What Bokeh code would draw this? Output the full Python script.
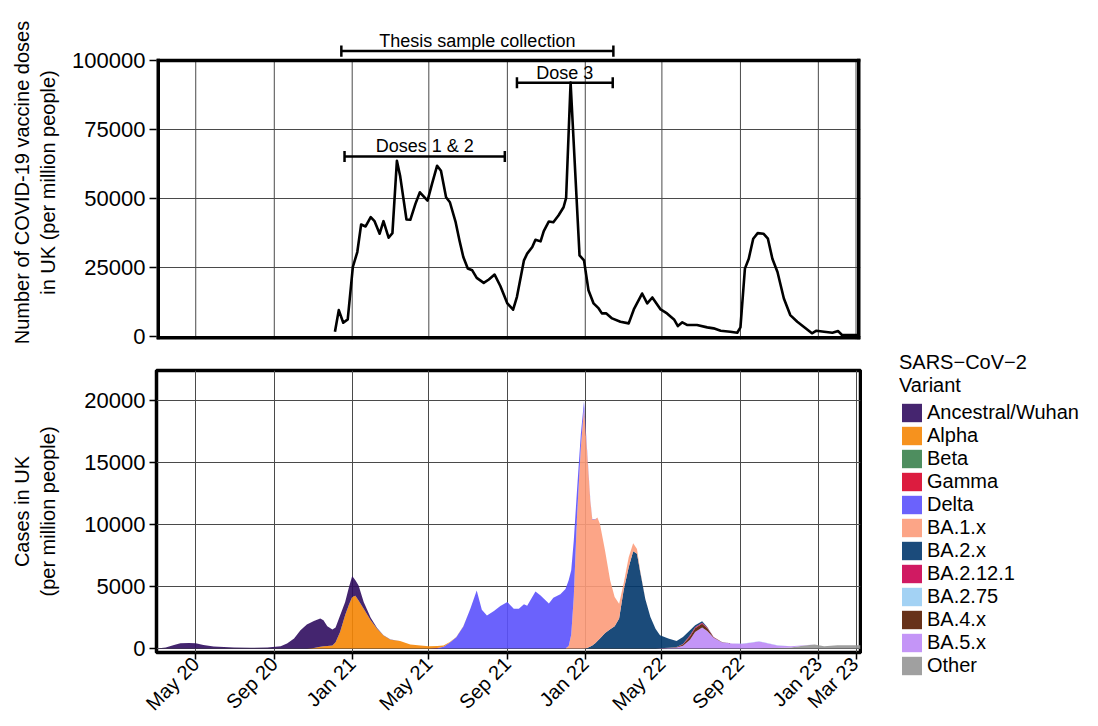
import math
import pandas as pd
from bokeh.plotting import figure
from bokeh.layouts import column, row
from bokeh.models import (Range1d, FixedTicker, NumeralTickFormatter,
                          DatetimeTickFormatter, ColumnDataSource, Legend, LegendItem)
from bokeh.core.properties import value
from bokeh.embed import file_html
from bokeh.resources import INLINE

# ---------------- data: vaccine doses (per million people) ----------------
vax_dates = [
    "2020-12-05", "2020-12-11", "2020-12-18", "2020-12-25", "2021-01-02", "2021-01-09",
    "2021-01-15", "2021-01-22", "2021-01-30", "2021-02-05", "2021-02-13", "2021-02-19",
    "2021-02-27", "2021-03-05", "2021-03-12", "2021-03-17", "2021-03-27", "2021-04-02",
    "2021-04-10", "2021-04-17", "2021-04-29", "2021-05-06", "2021-05-14", "2021-05-20",
    "2021-05-28", "2021-06-03", "2021-06-12", "2021-06-18", "2021-06-24", "2021-07-01",
    "2021-07-08", "2021-07-15", "2021-07-26", "2021-08-03", "2021-08-12", "2021-08-21",
    "2021-09-01", "2021-09-10", "2021-09-16", "2021-09-27", "2021-10-02", "2021-10-10",
    "2021-10-15", "2021-10-23", "2021-10-28", "2021-11-05", "2021-11-12", "2021-11-20",
    "2021-11-28", "2021-12-02", "2021-12-09", "2021-12-23", "2021-12-30", "2022-01-06",
    "2022-01-14", "2022-01-22", "2022-01-27", "2022-02-03", "2022-02-12", "2022-02-25",
    "2022-03-10", "2022-03-18", "2022-03-31", "2022-04-08", "2022-04-16", "2022-04-29",
    "2022-05-09", "2022-05-20", "2022-05-26", "2022-06-02", "2022-06-10", "2022-06-25",
    "2022-07-11", "2022-07-21", "2022-08-01", "2022-08-16", "2022-08-27", "2022-09-01",
    "2022-09-08", "2022-09-14", "2022-09-21", "2022-09-28", "2022-10-07", "2022-10-14",
    "2022-10-21", "2022-10-29", "2022-11-08", "2022-11-18", "2022-11-29", "2022-12-09",
    "2022-12-22", "2022-12-29", "2023-01-10", "2023-01-23", "2023-02-01", "2023-02-07",
    "2023-02-20", "2023-03-03",
]
vax_doses = [
    1730, 9560, 4980, 6200, 25180, 30600,
    40590, 39870, 43220, 41780, 37230, 41780,
    35790, 37450, 63680, 58270, 42390, 42290,
    48060, 52240, 49250, 55270, 61880, 60070,
    50440, 48640, 41420, 34820, 28790, 24610,
    23990, 21220, 19410, 20640, 22440, 18300,
    11980, 9700, 14360, 27600, 30020, 32400,
    35070, 34460, 38180, 41680, 41420, 43840,
    46840, 50230, 92000, 29400, 27600, 16780,
    11980, 10170, 8370, 8370, 6560, 5360,
    4760, 9800, 15570, 11980, 14140, 9800,
    8370, 6200, 3790, 5120, 4150, 4150,
    3310, 2950, 2100, 1730, 1370, 3310,
    24600, 28200, 35430, 37450, 37230, 35430,
    28200, 23380, 13780, 7760, 5360, 3550,
    1160, 2100, 1730, 1370, 1980, 540,
    540, 500,
]

# ---------------- data: cases by variant (per million people) ----------------
case_dates = [
    "2020-03-01", "2020-03-15", "2020-03-28", "2020-04-07", "2020-04-20",
    "2020-05-01", "2020-05-13", "2020-05-29", "2020-06-30", "2020-07-26",
    "2020-08-21", "2020-09-11", "2020-09-21", "2020-10-02", "2020-10-12",
    "2020-10-22", "2020-11-02", "2020-11-12", "2020-11-17", "2020-11-23",
    "2020-12-01", "2020-12-06", "2020-12-13", "2020-12-21", "2020-12-27",
    "2021-01-01", "2021-01-06", "2021-01-11", "2021-01-19", "2021-01-30",
    "2021-02-09", "2021-02-19", "2021-03-02", "2021-03-17", "2021-04-02",
    "2021-04-18", "2021-05-01", "2021-05-14", "2021-05-24", "2021-06-03",
    "2021-06-13", "2021-06-24", "2021-07-05", "2021-07-15", "2021-07-23",
    "2021-07-31", "2021-08-11", "2021-08-21", "2021-09-01", "2021-09-11",
    "2021-09-19", "2021-09-27", "2021-10-02", "2021-10-15", "2021-10-23",
    "2021-11-05", "2021-11-12", "2021-11-23", "2021-12-01", "2021-12-06",
    "2021-12-10", "2021-12-14", "2021-12-19", "2021-12-25", "2021-12-30",
    "2022-01-04", "2022-01-09", "2022-01-12", "2022-01-17", "2022-01-20",
    "2022-01-24", "2022-02-01", "2022-02-09", "2022-02-16", "2022-02-23",
    "2022-03-02", "2022-03-10", "2022-03-17", "2022-03-23", "2022-03-28",
    "2022-04-05", "2022-04-13", "2022-04-21", "2022-04-28", "2022-05-11",
    "2022-05-24", "2022-06-03", "2022-06-14", "2022-06-22", "2022-07-03",
    "2022-07-11", "2022-07-21", "2022-08-03", "2022-08-19", "2022-09-04",
    "2022-09-17", "2022-09-30", "2022-10-13", "2022-10-29", "2022-11-19",
    "2022-12-10", "2022-12-26", "2023-01-10", "2023-01-31", "2023-02-20",
    "2023-03-08",
]

ancestral = [
    0, 80, 290, 425, 450, 425, 290, 160, 80, 55,
    80, 185, 400, 800, 1470, 1930, 2170, 2260, 2095, 1590,
    1285, 1190, 1340, 1040, 1400, 1700, 1250, 1200, 530, 220,
    55, 20, 10, 0, 0, 0, 0, 0, 0, 0,
    0, 0, 0, 0, 0, 0, 0, 0, 0, 0,
    0, 0, 0, 0, 0, 0, 0, 0, 0, 0,
    0, 0, 0, 0, 0, 0, 0, 0, 0, 0,
    0, 0, 0, 0, 0, 0, 0, 0, 0, 0,
    0, 0, 0, 0, 0, 0, 0, 0, 0, 0,
    0, 0, 0, 0, 0, 0, 0, 0, 0, 0,
    0, 0, 0, 0, 0, 0,
]
alpha = [
    0, 0, 0, 0, 0, 0, 0, 0, 0, 0,
    0, 0, 0, 0, 0, 0, 50, 150, 185, 200,
    240, 500, 1330, 2700, 3550, 4150, 4250, 3880, 3210, 2270,
    1600, 1050, 710, 590, 320, 240, 185, 160, 100, 50,
    20, 10, 0, 0, 0, 0, 0, 0, 0, 0,
    0, 0, 0, 0, 0, 0, 0, 0, 0, 0,
    0, 0, 0, 0, 0, 0, 0, 0, 0, 0,
    0, 0, 0, 0, 0, 0, 0, 0, 0, 0,
    0, 0, 0, 0, 0, 0, 0, 0, 0, 0,
    0, 0, 0, 0, 0, 0, 0, 0, 0, 0,
    0, 0, 0, 0, 0, 0,
]
beta = [
    0, 0, 0, 0, 0, 0, 0, 0, 0, 0,
    0, 0, 0, 0, 0, 0, 0, 0, 0, 0,
    0, 0, 0, 0, 0, 0, 0, 0, 0, 0,
    0, 0, 5, 10, 10, 5, 0, 0, 0, 0,
    0, 0, 0, 0, 0, 0, 0, 0, 0, 0,
    0, 0, 0, 0, 0, 0, 0, 0, 0, 0,
    0, 0, 0, 0, 0, 0, 0, 0, 0, 0,
    0, 0, 0, 0, 0, 0, 0, 0, 0, 0,
    0, 0, 0, 0, 0, 0, 0, 0, 0, 0,
    0, 0, 0, 0, 0, 0, 0, 0, 0, 0,
    0, 0, 0, 0, 0, 0,
]
gamma = [
    0, 0, 0, 0, 0, 0, 0, 0, 0, 0,
    0, 0, 0, 0, 0, 0, 0, 0, 0, 0,
    0, 0, 0, 0, 0, 0, 0, 0, 0, 0,
    0, 0, 0, 0, 0, 0, 5, 10, 10, 5,
    0, 0, 0, 0, 0, 0, 0, 0, 0, 0,
    0, 0, 0, 0, 0, 0, 0, 0, 0, 0,
    0, 0, 0, 0, 0, 0, 0, 0, 0, 0,
    0, 0, 0, 0, 0, 0, 0, 0, 0, 0,
    0, 0, 0, 0, 0, 0, 0, 0, 0, 0,
    0, 0, 0, 0, 0, 0, 0, 0, 0, 0,
    0, 0, 0, 0, 0, 0,
]
delta = [
    0, 0, 0, 0, 0, 0, 0, 0, 0, 0,
    0, 0, 0, 0, 0, 0, 0, 0, 0, 0,
    0, 0, 0, 0, 0, 0, 0, 0, 0, 0,
    0, 0, 0, 0, 0, 0, 0, 30, 140, 480,
    910, 1780, 3210, 4680, 3130, 2670, 3020, 3420, 3740, 3210,
    3210, 3560, 3450, 4600, 4280, 3630, 4090, 4380, 4800, 5300,
    5200, 4555, 2140, 1070, 600, 200, 80, 40, 20, 10,
    0, 0, 0, 0, 0, 0, 0, 0, 0, 0,
    0, 0, 0, 0, 0, 0, 0, 0, 0, 0,
    0, 0, 0, 0, 0, 0, 0, 0, 0, 0,
    0, 0, 0, 0, 0, 0,
]
ba1 = [
    0, 0, 0, 0, 0, 0, 0, 0, 0, 0,
    0, 0, 0, 0, 0, 0, 0, 0, 0, 0,
    0, 0, 0, 0, 0, 0, 0, 0, 0, 0,
    0, 0, 0, 0, 0, 0, 0, 0, 0, 0,
    0, 0, 0, 0, 0, 0, 0, 0, 0, 0,
    0, 0, 0, 0, 0, 0, 0, 0, 0, 200,
    1100, 4145, 10570, 16190, 19340, 15670, 11670, 10150, 9970, 9960,
    9240, 6640, 3930, 2345, 1200, 540, 810, 640, 400, 100,
    20, 0, 0, 0, 0, 0, 0, 0, 0, 0,
    0, 0, 0, 0, 0, 0, 0, 0, 0, 0,
    0, 0, 0, 0, 0, 0,
]
ba2 = [
    0, 0, 0, 0, 0, 0, 0, 0, 0, 0,
    0, 0, 0, 0, 0, 0, 0, 0, 0, 0,
    0, 0, 0, 0, 0, 0, 0, 0, 0, 0,
    0, 0, 0, 0, 0, 0, 0, 0, 0, 0,
    0, 0, 0, 0, 0, 0, 0, 0, 0, 0,
    0, 0, 0, 0, 0, 0, 0, 0, 0, 0,
    0, 0, 0, 0, 0, 50, 160, 250, 450, 600,
    800, 1250, 1550, 1800, 2410, 4680, 6550, 7840, 7630, 6190,
    3995, 2540, 1590, 1050, 740, 480, 560, 420, 160, 120,
    45, 10, 0, 0, 0, 0, 0, 0, 0, 0,
    0, 0, 0, 0, 0, 0,
]
ba2121 = [
    0, 0, 0, 0, 0, 0, 0, 0, 0, 0,
    0, 0, 0, 0, 0, 0, 0, 0, 0, 0,
    0, 0, 0, 0, 0, 0, 0, 0, 0, 0,
    0, 0, 0, 0, 0, 0, 0, 0, 0, 0,
    0, 0, 0, 0, 0, 0, 0, 0, 0, 0,
    0, 0, 0, 0, 0, 0, 0, 0, 0, 0,
    0, 0, 0, 0, 0, 0, 0, 0, 0, 0,
    0, 0, 0, 0, 0, 0, 0, 0, 0, 0,
    0, 0, 0, 0, 5, 15, 50, 100, 80, 80,
    50, 5, 0, 0, 0, 0, 0, 0, 0, 0,
    0, 0, 0, 0, 0, 0,
]
ba275 = [
    0, 0, 0, 0, 0, 0, 0, 0, 0, 0,
    0, 0, 0, 0, 0, 0, 0, 0, 0, 0,
    0, 0, 0, 0, 0, 0, 0, 0, 0, 0,
    0, 0, 0, 0, 0, 0, 0, 0, 0, 0,
    0, 0, 0, 0, 0, 0, 0, 0, 0, 0,
    0, 0, 0, 0, 0, 0, 0, 0, 0, 0,
    0, 0, 0, 0, 0, 0, 0, 0, 0, 0,
    0, 0, 0, 0, 0, 0, 0, 0, 0, 0,
    0, 0, 0, 0, 0, 0, 0, 0, 0, 0,
    0, 0, 0, 0, 10, 20, 20, 20, 15, 10,
    0, 0, 0, 0, 0, 0,
]
ba4 = [
    0, 0, 0, 0, 0, 0, 0, 0, 0, 0,
    0, 0, 0, 0, 0, 0, 0, 0, 0, 0,
    0, 0, 0, 0, 0, 0, 0, 0, 0, 0,
    0, 0, 0, 0, 0, 0, 0, 0, 0, 0,
    0, 0, 0, 0, 0, 0, 0, 0, 0, 0,
    0, 0, 0, 0, 0, 0, 0, 0, 0, 0,
    0, 0, 0, 0, 0, 0, 0, 0, 0, 0,
    0, 0, 0, 0, 0, 0, 0, 0, 0, 0,
    0, 0, 0, 0, 15, 35, 100, 260, 300, 300,
    220, 55, 15, 5, 0, 0, 0, 0, 0, 0,
    0, 0, 0, 0, 0, 0,
]
ba5 = [
    0, 0, 0, 0, 0, 0, 0, 0, 0, 0,
    0, 0, 0, 0, 0, 0, 0, 0, 0, 0,
    0, 0, 0, 0, 0, 0, 0, 0, 0, 0,
    0, 0, 0, 0, 0, 0, 0, 0, 0, 0,
    0, 0, 0, 0, 0, 0, 0, 0, 0, 0,
    0, 0, 0, 0, 0, 0, 0, 0, 0, 0,
    0, 0, 0, 0, 0, 0, 0, 0, 0, 0,
    0, 0, 0, 0, 0, 0, 0, 0, 0, 0,
    0, 0, 10, 20, 40, 80, 220, 700, 1330, 1690,
    1420, 860, 515, 395, 390, 460, 560, 410, 210, 90,
    30, 0, 0, 0, 0, 0,
]
other = [
    0, 0, 0, 0, 0, 0, 0, 0, 0, 0,
    0, 0, 0, 0, 0, 0, 0, 0, 0, 0,
    0, 0, 0, 0, 0, 0, 0, 0, 0, 0,
    0, 0, 0, 0, 0, 0, 0, 0, 0, 0,
    0, 0, 0, 0, 0, 0, 0, 0, 0, 0,
    0, 0, 0, 0, 0, 0, 0, 0, 0, 0,
    0, 0, 0, 0, 0, 0, 0, 0, 0, 0,
    0, 0, 0, 0, 0, 0, 0, 0, 0, 0,
    0, 0, 0, 0, 0, 0, 0, 0, 0, 0,
    0, 0, 0, 0, 0, 0, 10, 20, 40, 85,
    235, 320, 185, 265, 265, 265,
]

variant_names = ["Ancestral/Wuhan", "Alpha", "Beta", "Gamma", "Delta", "BA.1.x",
                 "BA.2.x", "BA.2.12.1", "BA.2.75", "BA.4.x", "BA.5.x", "Other"]
variant_values = [ancestral, alpha, beta, gamma, delta, ba1,
                  ba2, ba2121, ba275, ba4, ba5, other]
variant_colors = ["#45256f", "#f6921e", "#4e8e5f", "#dc1c3f", "#6b62fc", "#fca587",
                  "#1b4b7b", "#d01a62", "#a3d2f4", "#67321a", "#c495f7", "#a0a0a0"]

tick_dates = ["2020-05-01", "2020-09-01", "2021-01-01", "2021-05-01", "2021-09-01",
              "2022-01-01", "2022-05-01", "2022-09-01", "2023-01-01", "2023-03-01"]
vax_ticks = [0, 25000, 50000, 75000, 100000]
case_ticks = [0, 5000, 10000, 15000, 20000]

bracket_labels = ["Thesis sample collection", "Dose 3", "Doses 1 & 2"]
bracket_start = ["2020-12-15", "2021-09-16", "2020-12-20"]
bracket_end = ["2022-02-14", "2022-02-13", "2021-08-28"]
bracket_level = [103400, 91900, 65200]


def ms(dates):
    s = pd.to_datetime(pd.Series(dates))
    return [float(v) for v in (s - pd.Timestamp("1970-01-01")) // pd.Timedelta(milliseconds=1)]


AREA_ALPHA = 0.9


def under_alpha(hexcol, a=AREA_ALPHA):
    # base colour that gives hexcol when drawn at alpha a on white
    h = hexcol.lstrip("#")
    ch = [int(h[i:i + 2], 16) for i in (0, 2, 4)]
    out = [max(0, min(255, round((c - 255 * (1 - a)) / a))) for c in ch]
    return "#%02x%02x%02x" % tuple(out)


FONT = "Liberation Sans"
GRID = "#4a4a4a"
X0 = ms(["2020-02-29 13:00"])[0]
X1 = ms(["2023-03-08"])[0]
xr = Range1d(X0, X1)
tick_ms = ms(tick_dates)

VAX_LO, VAX_HI, VAX_FRAME = -1087, 112680, 100000
MAIN_W = 862


def style_y(ax, label, standoff):
    ax.axis_label = label
    ax.axis_label_text_font = FONT
    ax.axis_label_text_font_size = "20px"
    ax.axis_label_text_font_style = "normal"
    ax.axis_label_text_color = "black"
    ax.axis_label_standoff = standoff
    ax.major_label_text_font = FONT
    ax.major_label_text_font_size = "22px"
    ax.major_label_text_color = "black"
    ax.major_label_standoff = 4
    ax.major_tick_out = 7
    ax.major_tick_in = 0
    ax.minor_tick_out = 0
    ax.minor_tick_in = 0
    ax.major_tick_line_width = 1.5
    ax.major_tick_line_color = "black"
    ax.axis_line_color = None
    ax.formatter = NumeralTickFormatter(format="0")


# ---------------- top panel ----------------
p1 = figure(width=MAIN_W, height=351, x_range=xr, y_range=Range1d(VAX_LO, VAX_HI),
            x_axis_type="datetime", output_backend="svg", toolbar_location=None,
            title=None, min_border_left=156, min_border_right=2,
            min_border_top=25, min_border_bottom=12)
p1.outline_line_color = None
p1.xaxis.visible = False
p1.xgrid.visible = False
p1.yaxis.ticker = FixedTicker(ticks=vax_ticks)
p1.ygrid.ticker = FixedTicker(ticks=vax_ticks)
p1.ygrid.grid_line_color = GRID
p1.ygrid.grid_line_width = 1
style_y(p1.yaxis[0], "Number of COVID-19 vaccine doses\nin UK (per million people)", 10)

# vertical grid lines restricted to the panel box
p1.segment(x0=tick_ms, y0=[VAX_LO] * len(tick_ms), x1=tick_ms, y1=[VAX_FRAME] * len(tick_ms),
           line_color=GRID, line_width=1)

p1.line(x=ms(vax_dates), y=vax_doses, line_color="black", line_width=2.6, line_join="round")

# panel box
p1.segment(x0=[X0], y0=[VAX_FRAME], x1=[X1], y1=[VAX_FRAME], line_color="black", line_width=3.5)
p1.segment(x0=[X0], y0=[VAX_LO], x1=[X1], y1=[VAX_LO], line_color="black", line_width=7)
p1.segment(x0=[X0, X1], y0=[VAX_LO, VAX_LO], x1=[X0, X1], y1=[VAX_FRAME + 630, VAX_FRAME + 630],
           line_color="black", line_width=7)

# brackets
bs = ms(bracket_start)
be = ms(bracket_end)
bm = [(a + b) / 2 for a, b in zip(bs, be)]
p1.segment(x0=bs, y0=bracket_level, x1=be, y1=bracket_level, line_color="black", line_width=2.5)
cap = 2000
p1.segment(x0=bs + be, y0=[v - cap for v in bracket_level] * 2,
           x1=bs + be, y1=[v + cap for v in bracket_level] * 2,
           line_color="black", line_width=2.5)
p1.text(x=bm, y=[v + 3700 for v in bracket_level], text=bracket_labels,
        text_font=value(FONT), text_font_size="18px", text_align="center",
        text_baseline="middle", text_color="black")

# ---------------- bottom panel ----------------
p2 = figure(width=MAIN_W, height=374, x_range=xr, y_range=Range1d(-321, 22410),
            x_axis_type="datetime", output_backend="svg", toolbar_location=None,
            title=None, min_border_left=156, min_border_right=2,
            min_border_top=19, min_border_bottom=68)
p2.outline_line_color = "black"
p2.outline_line_width = 3.5
p2.xaxis.ticker = FixedTicker(ticks=tick_ms)
p2.xgrid.ticker = FixedTicker(ticks=tick_ms)
p2.yaxis.ticker = FixedTicker(ticks=case_ticks)
p2.ygrid.ticker = FixedTicker(ticks=case_ticks)
for g in (p2.xgrid[0], p2.ygrid[0]):
    g.grid_line_color = GRID
    g.grid_line_width = 1
style_y(p2.yaxis[0], "Cases in UK\n(per million people)", 22)

fmt = "%b %y"
xa = p2.xaxis[0]
xa.formatter = DatetimeTickFormatter(microseconds=fmt, milliseconds=fmt, seconds=fmt,
                                     minsec=fmt, minutes=fmt, hourmin=fmt, hours=fmt,
                                     days=fmt, months=fmt, years=fmt)
xa.major_label_orientation = math.pi / 4
xa.major_label_text_font = FONT
xa.major_label_text_font_size = "20px"
xa.major_label_text_color = "black"
xa.major_label_standoff = 1
xa.major_tick_out = 7
xa.major_tick_in = 0
xa.minor_tick_out = 0
xa.minor_tick_in = 0
xa.major_tick_line_width = 1.5
xa.axis_line_color = None

data = {"date": ms(case_dates)}
for name, vals in zip(variant_names, variant_values):
    data[name] = vals
src = ColumnDataSource(data)

stack_names = list(reversed(variant_names))
stack_colors = [under_alpha(c) for c in reversed(variant_colors)]
p2.varea_stack(stackers=stack_names, x="date", color=stack_colors,
               fill_alpha=AREA_ALPHA, source=src)

# ---------------- legend panel ----------------
pl = figure(width=228, height=725, x_range=Range1d(0, 1), y_range=Range1d(0, 1),
            output_backend="svg", toolbar_location=None, title=None,
            min_border_left=37, min_border_right=0, min_border_top=351, min_border_bottom=0)
pl.axis.visible = False
pl.grid.visible = False
pl.outline_line_color = None
items = []
for n, c in zip(variant_names, variant_colors):
    # swatch renderer kept outside the visible range; only its legend square shows
    r = pl.varea(x=[5, 6], y1=[5, 5], y2=[6, 6], fill_color=c, fill_alpha=1.0)
    items.append(LegendItem(label=n, renderers=[r]))
legend = Legend(items=items, location="top_left", title="SARS\u2212CoV\u22122\nVariant")
legend.title_text_font = FONT
legend.title_text_font_size = "20px"
legend.title_text_font_style = "normal"
legend.title_text_color = "black"
legend.title_standoff = 4
legend.label_text_font = FONT
legend.label_text_font_size = "20px"
legend.label_text_color = "black"
legend.glyph_width = 25
legend.glyph_height = 23
legend.label_height = 20
legend.label_standoff = 3
legend.spacing = 0
legend.padding = 4
legend.margin = 0
legend.border_line_color = None
legend.background_fill_alpha = 0
pl.add_layout(legend, "center")

layout = row(column(p1, p2), pl)
open("out.html", "w").write(file_html(layout, INLINE))
